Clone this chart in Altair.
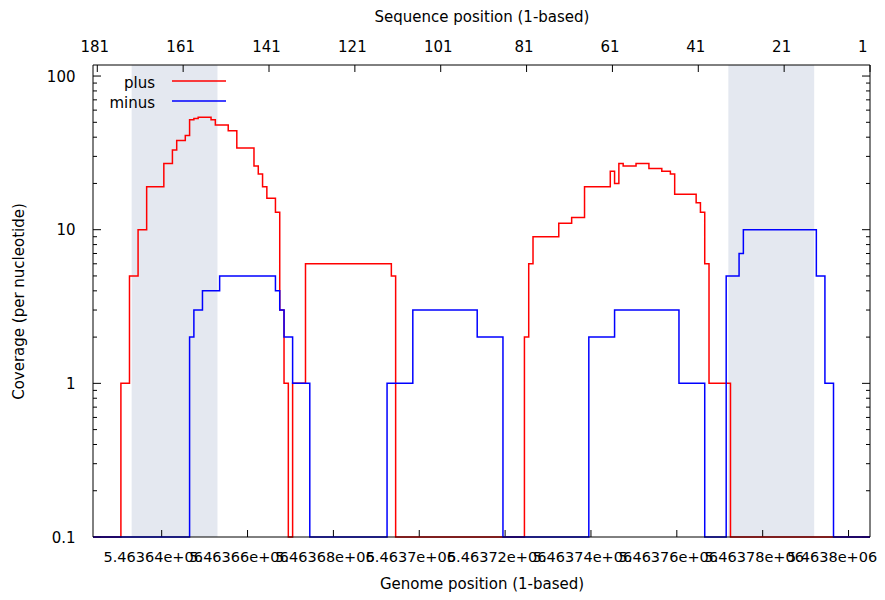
import altair as alt
import pandas as pd

# ---------------- data ----------------
genome_ticks = [5463640, 5463660, 5463680, 5463700, 5463720,
                5463740, 5463760, 5463780, 5463800]
seq_ticks = [181, 161, 141, 121, 101, 81, 61, 41, 21, 1]
y_major = [0.1, 1, 10, 100]
y_minor = [0.2, 0.3, 0.4, 0.5, 0.6, 0.7, 0.8, 0.9,
           2, 3, 4, 5, 6, 7, 8, 9,
           20, 30, 40, 50, 60, 70, 80, 90]

# plus strand: first nucleotide of each run and its coverage
plus_pos = [5463631, 5463633, 5463635, 5463637, 5463641, 5463643, 5463644,
            5463646, 5463647, 5463648, 5463649, 5463652, 5463653, 5463656,
            5463658, 5463662, 5463663, 5463664, 5463665, 5463667, 5463668,
            5463669, 5463670, 5463671, 5463674, 5463694, 5463695, 5463725,
            5463726, 5463727, 5463733, 5463736, 5463739, 5463745, 5463746,
            5463747, 5463748, 5463751, 5463754, 5463757, 5463759, 5463760,
            5463765, 5463766, 5463767, 5463768, 5463773]
plus_cov = [1, 5, 10, 19, 27, 33, 38, 41, 52, 53, 54, 52, 48, 44, 34, 26, 23,
            19, 16, 13, 3, 1, 0, 1, 6, 5, 0, 2, 6, 9, 11, 12, 19, 24, 20, 27,
            26, 27, 25, 24, 23, 17, 15, 13, 6, 1, 0]

# minus strand
minus_pos = [5463647, 5463648, 5463650, 5463654, 5463667, 5463668, 5463669,
             5463671, 5463675, 5463693, 5463699, 5463714, 5463720, 5463740,
             5463746, 5463761, 5463767, 5463772, 5463775, 5463776, 5463793,
             5463795, 5463797]
minus_cov = [2, 3, 4, 5, 4, 3, 2, 1, 0, 1, 3, 2, 0, 2, 3, 1, 0, 5, 7, 10, 5,
             1, 0]

shade_start = [5463633, 5463772]
shade_end = [5463653, 5463792]

X_DOMAIN = [5463624, 5463805]
SEQ_DOMAIN = [182, 1]
Y_DOMAIN = [0.1, 118]

# ---------------- layout ----------------
W, H = 777, 472
FONT = "DejaVu Sans"
FS = 15


def steps(pos, cov):
    xs = [X_DOMAIN[0]] + [p - 0.5 for p in pos] + [X_DOMAIN[1]]
    ys = [0] + list(cov) + [cov[-1]]
    df = pd.DataFrame({"bound": xs, "cov": ys})
    df["cov_plot"] = df["cov"].clip(lower=Y_DOMAIN[0])
    return df


xs = alt.Scale(domain=X_DOMAIN, zero=False, nice=False)
ys = alt.Scale(type="log", domain=Y_DOMAIN, nice=False)

x_axis = alt.Axis(
    orient="bottom", values=genome_ticks, ticks=False, tickSize=0,
    domain=False, grid=False, labelOverlap=False, labelFontSize=14.5,
    labelOffset={"condition": {"test": f"datum.value >= {genome_ticks[-1]}",
                               "value": -17},
                 "value": -9},
    labelExpr="replace(format(datum.value, '.6~e'), 'e+6', 'e+06')",
    labelPadding=13, title="Genome position (1-based)", titlePadding=13,
)
y_axis = alt.Axis(
    orient="left", values=y_major, ticks=False, tickSize=0, domain=False,
    grid=False, format="~g", labelPadding=18,
    title="Coverage (per nucleotide)", titlePadding=20,
)

shade = alt.Chart(pd.DataFrame({"start": shade_start, "end": shade_end})).mark_rect(
    color="#e4e8f0"
).encode(
    x=alt.X("start:Q", scale=xs, axis=x_axis),
    x2="end:Q",
    y=alt.value(0),
    y2=alt.value(H),
)

plus_line = alt.Chart(steps(plus_pos, plus_cov)).mark_line(
    interpolate="step-after", color="#ff0000", strokeWidth=1.5
).encode(
    x=alt.X("bound:Q", scale=xs, axis=x_axis),
    y=alt.Y("cov_plot:Q", scale=ys, axis=y_axis),
)

minus_line = alt.Chart(steps(minus_pos, minus_cov)).mark_line(
    interpolate="step-after", color="#0000ff", strokeWidth=1.5
).encode(
    x=alt.X("bound:Q", scale=xs, axis=x_axis),
    y=alt.Y("cov_plot:Q", scale=ys, axis=y_axis),
)

bottom_ticks = alt.Chart(pd.DataFrame({"g": genome_ticks})).mark_rule(
    color="black", strokeWidth=1
).encode(
    x=alt.X("g:Q", scale=xs, axis=x_axis),
    y=alt.value(H),
    y2=alt.value(H - 7),
)


def ytick_layer(vals, x0, x1):
    return alt.Chart(pd.DataFrame({"v": vals})).mark_rule(
        color="black", strokeWidth=1
    ).encode(
        y=alt.Y("v:Q", scale=ys, axis=y_axis),
        x=alt.value(x0),
        x2=alt.value(x1),
    )


ticks_y = [
    ytick_layer(y_major, 0, 8),
    ytick_layer(y_minor, 0, 4),
    ytick_layer(y_major, W, W - 8),
    ytick_layer(y_minor, W, W - 4),
]


def legend_entry(label, color, ty):
    d = pd.DataFrame({"t": [label]})
    txt = alt.Chart(d).mark_text(
        align="right", baseline="middle", font=FONT, fontSize=FS, color="black"
    ).encode(x=alt.value(62), y=alt.value(ty), text="t:N")
    rule = alt.Chart(d).mark_rule(color=color, strokeWidth=1.5).encode(
        x=alt.value(79), x2=alt.value(133), y=alt.value(ty - 1.5)
    )
    return [txt, rule]


legend_layers = legend_entry("plus", "#ff0000", 17.5) + legend_entry("minus", "#0000ff", 37.5)

frame = alt.Chart(pd.DataFrame({"f": [0]})).mark_rect(
    filled=False, stroke="black", strokeWidth=1, fillOpacity=0
).encode(
    x=alt.value(0), x2=alt.value(W), y=alt.value(0), y2=alt.value(H)
)

main = alt.layer(shade, *ticks_y, bottom_ticks, plus_line, minus_line,
                 *legend_layers, frame)

top = alt.Chart(pd.DataFrame({"s": seq_ticks})).mark_rule(
    color="black", strokeWidth=1
).encode(
    x=alt.X(
        "s:Q",
        scale=alt.Scale(domain=SEQ_DOMAIN, zero=False, nice=False),
        axis=alt.Axis(
            orient="top", values=seq_ticks, ticks=False, tickSize=0,
            domain=False, grid=False, format="d", labelPadding=11,
            labelOverlap=False, labelOffset=-3,
            title="Sequence position (1-based)", titlePadding=15,
        ),
    ),
    y=alt.value(0),
    y2=alt.value(7),
)

chart = alt.layer(main, top).resolve_scale(x="independent").properties(
    width=W,
    height=H,
    autosize=alt.AutoSizeParams(type="none"),
    padding={"left": 85, "top": 57, "right": 7, "bottom": 55},
).configure_view(
    stroke=None
).configure_axis(
    labelFont=FONT, titleFont=FONT, labelFontSize=FS, titleFontSize=FS,
    labelColor="black", titleColor="black", titleFontWeight="normal",
)

chart.save("out.html", embed_options={"renderer": "svg", "actions": False})
